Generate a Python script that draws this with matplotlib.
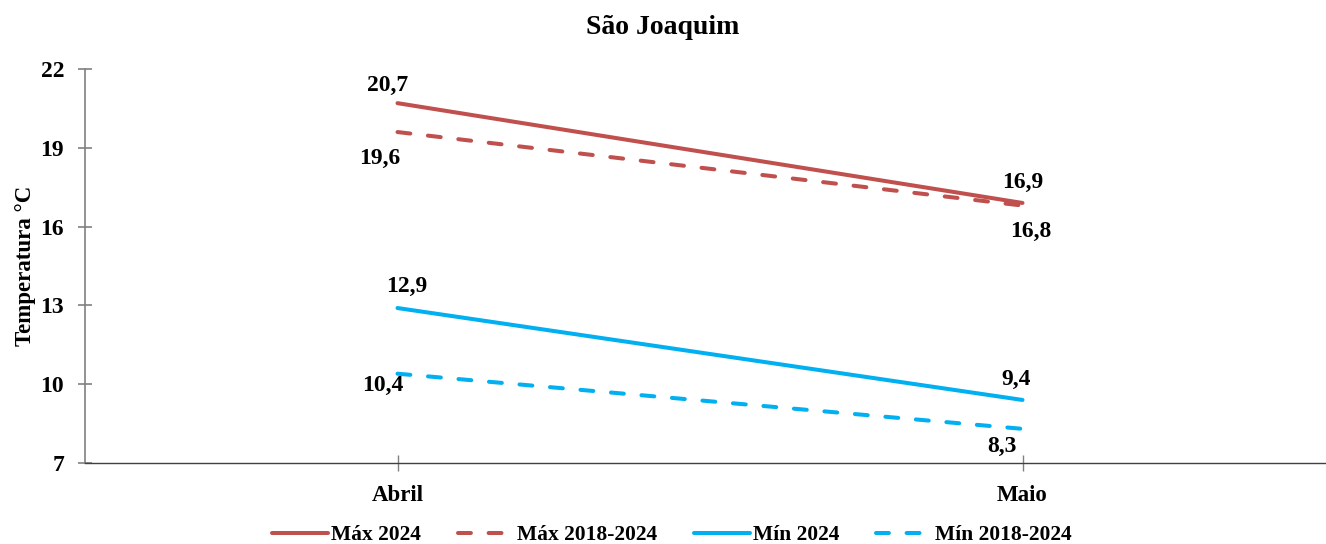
import matplotlib
matplotlib.use("Agg")
import matplotlib.pyplot as plt

# Monthly temperature data, São Joaquim
months = ["Abril", "Maio"]
max_2024 = [20.7, 16.9]
max_2018_2024 = [19.6, 16.8]
min_2024 = [12.9, 9.4]
min_2018_2024 = [10.4, 8.3]

y_ticks = [7, 10, 13, 16, 19, 22]

red = "#C0504D"
blue = "#00B0F0"

plt.rcParams["font.family"] = ["Liberation Serif", "DejaVu Serif"]
plt.rcParams["font.weight"] = "bold"

fig = plt.figure(figsize=(13.26, 5.44), dpi=100)
ax = fig.add_axes([85 / 1326, 81 / 544, 1 - 85 / 1326, 394 / 544])

x = list(range(len(months)))
dash = (0, (3.2, 4.4))
series = [
    ("Máx 2024", max_2024, red, "-"),
    ("Máx 2018-2024", max_2018_2024, red, dash),
    ("Mín 2024", min_2024, blue, "-"),
    ("Mín 2018-2024", min_2018_2024, blue, dash),
]
for name, vals, col, ls in series:
    ax.plot(x, vals, color=col, lw=2.9, ls=ls, label=name,
            solid_capstyle="round", dash_capstyle="round")

# Value labels (pixel offsets from each point)
label_offsets = {
    "Máx 2024": [(-10, 18), (0, 21)],
    "Máx 2018-2024": [(-18, -26), (8, -26)],
    "Mín 2024": [(9, 22), (-6, 21)],
    "Mín 2018-2024": [(-15, -12), (-21, -18)],
}
for name, vals, col, ls in series:
    for xi, v, off in zip(x, vals, label_offsets[name]):
        ax.annotate(f"{v:.1f}".replace(".", ","), (xi, v), xytext=off,
                    textcoords="offset pixels", ha="center", va="center",
                    fontsize=17, fontweight="bold", color="black")

ax.set_xlim(-0.5, (1326 - 399) / 624)
ax.set_ylim(7, 22)
ax.set_yticks(y_ticks)
ax.set_xticks(x)
ax.set_xticklabels(months)

for s in ["top", "right"]:
    ax.spines[s].set_visible(False)
ax.spines["left"].set_color("#808080")
ax.spines["left"].set_linewidth(1.2)
ax.spines["bottom"].set_color("#404040")
ax.spines["bottom"].set_linewidth(1.0)

ax.tick_params(axis="y", direction="inout", length=10, width=1.2, color="#808080",
               labelsize=17, pad=10)
ax.tick_params(axis="x", direction="inout", length=11, width=1.0, color="#808080",
               labelsize=16.5, pad=10)
for lab in ax.get_xticklabels() + ax.get_yticklabels():
    lab.set_fontweight("bold")

ax.set_ylabel("Temperatura °C", fontsize=16.5, fontweight="bold", labelpad=3)
fig.text(0.5, 1 - 28 / 544, "São Joaquim", ha="center", va="center",
         fontsize=20, fontweight="bold")

fig.legend(loc="center", bbox_to_anchor=(672 / 1326, 1 - 535 / 544), ncol=4,
           frameon=False, handlelength=2.6, columnspacing=1.7,
           handletextpad=0.15, prop={"weight": "bold", "size": 15.5})

fig.savefig("out.png", dpi=100)
